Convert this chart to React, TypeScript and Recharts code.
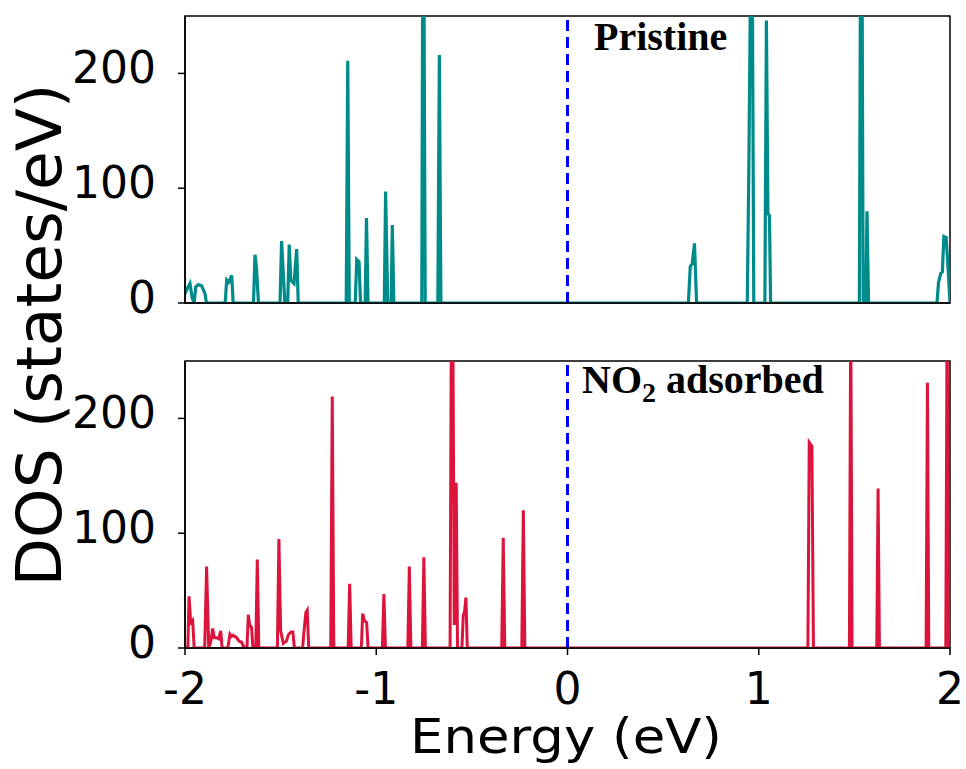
import React from 'react';
import { LineChart, Line, XAxis, YAxis, ReferenceLine, ReferenceArea } from 'recharts';

// Pristine DOS (energy in eV, DOS in states/eV)
const pristineEnergy = [
  -2.0, -1.99, -1.974, -1.962, -1.952, -1.944, -1.93, -1.913, -1.9, -1.895, -1.888,
  -1.79, -1.782, -1.772, -1.766, -1.756, -1.748,
  -1.642, -1.634, -1.626, -1.616,
  -1.503, -1.495, -1.478, -1.463, -1.455, -1.447, -1.43, -1.416, -1.408,
  -1.157, -1.149, -1.141,
  -1.11, -1.102, -1.09, -1.082,
  -1.058, -1.051, -1.043,
  -0.958, -0.951, -0.94, -0.922, -0.916, -0.908,
  -0.762, -0.757, -0.751, -0.744,
  -0.678, -0.67, -0.662,
  0.632, 0.642, 0.652, 0.664, 0.675,
  0.94, 0.948, 0.958, 0.966, 0.974,
  1.032, 1.04, 1.048, 1.056, 1.062,
  1.526, 1.532, 1.54, 1.546,
  1.56, 1.566, 1.574,
  1.932, 1.94, 1.952, 1.96, 1.968, 1.98, 1.99, 2.0,
];
const pristineDos = [
  8, 12, 17, 4, 0, 14, 16, 15, 10, 8, 0,
  0, 20, 18, 20, 24, 0,
  0, 42, 30, 0,
  0, 54, 0, 0, 51, 20, 17, 47, 0,
  0, 211, 0,
  0, 38, 36, 0,
  0, 74, 0,
  0, 97, 0, 0, 68, 0,
  0, 300, 300, 0,
  0, 216, 0,
  0, 32, 34, 52, 0,
  0, 114, 300, 300, 0,
  0, 246, 78, 76, 0,
  0, 300, 300, 0,
  0, 80, 0,
  0, 18, 26, 27, 58, 57, 30, 0,
];

// NO2 adsorbed DOS
const adsorbedEnergy = [
  -2.0, -1.985, -1.979, -1.97, -1.96, -1.952,
  -1.897, -1.887, -1.876, -1.866, -1.855, -1.847, -1.836, -1.824, -1.813, -1.806,
  -1.776, -1.765, -1.757, -1.748, -1.73, -1.718, -1.704, -1.69,
  -1.676, -1.669, -1.662, -1.652, -1.645,
  -1.63, -1.622, -1.614,
  -1.517, -1.509, -1.5, -1.486, -1.47, -1.458, -1.445, -1.436, -1.428,
  -1.385, -1.378, -1.368, -1.361, -1.353,
  -1.238, -1.23, -1.222,
  -1.147, -1.139, -1.131,
  -1.078, -1.071, -1.062, -1.05, -1.043,
  -0.968, -0.96, -0.952,
  -0.835, -0.827, -0.819,
  -0.759, -0.751, -0.743,
  -0.614, -0.607, -0.6, -0.592, -0.582, -0.575,
  -0.552, -0.545, -0.538, -0.531, -0.524,
  -0.344, -0.336, -0.328,
  -0.239, -0.231, -0.223,
  1.257, 1.264, 1.272, 1.278, 1.286,
  1.474, 1.481, 1.488,
  1.617, 1.624, 1.631,
  1.875, 1.882, 1.889,
  1.978, 1.985, 1.992, 2.0,
];
const adsorbedDos = [
  0, 0, 45, 22, 24, 0,
  0, 71, 0, 5, 17, 9, 9, 8, 15, 0,
  0, 12, 10, 11, 9, 6, 5, 0,
  0, 29, 20, 18, 0,
  0, 77, 0,
  0, 95, 15, 4, 6, 12, 14, 14, 0,
  0, 14, 31, 33, 0,
  0, 219, 0,
  0, 56, 0,
  0, 30, 24, 22, 0,
  0, 47, 0,
  0, 71, 0,
  0, 79, 0,
  0, 300, 300, 20, 144, 0,
  0, 28, 32, 44, 0,
  0, 96, 0,
  0, 120, 0,
  0, 179, 177, 176, 0,
  0, 300, 0,
  0, 139, 0,
  0, 231, 0,
  0, 300, 0, 0,
];

const energyTicks = [-2, -1, 0, 1, 2];
const dosTicks = [0, 100, 200];

const pristineData = pristineEnergy.map((e, i) => ({ e, dos: pristineDos[i] }));
const adsorbedData = adsorbedEnergy.map((e, i) => ({ e, dos: adsorbedDos[i] }));

const FONT = "'DejaVu Sans', sans-serif";
const SERIF = "'Liberation Serif', 'Times New Roman', serif";

const YTick = ({ x, y, payload }: any) => (
  <text x={x} y={y} dy={10} textAnchor="end" fontSize={44} fontFamily={FONT} fill="#000">
    {payload.value}
  </text>
);

const XTick = ({ x, y, payload }: any) => (
  <text x={x} y={y} dy={32} textAnchor="middle" fontSize={44} fontFamily={FONT} fill="#000">
    {payload.value}
  </text>
);

const yLabel = () => (
  <text transform="translate(61,335) rotate(-90)" textAnchor="middle" fontSize={63} fontFamily={FONT} fill="#000">
    DOS (states/eV)
  </text>
);

// the original is stretched sideways a little, so the label is fitted to its width
const xLabel = () => (
  <text x={410} y={753} fontSize={48} textLength={312} lengthAdjust="spacingAndGlyphs" fontFamily={FONT} fill="#000">
    Energy (eV)
  </text>
);

const pristineTitle = () => (
  <text x={594} y={50} fontSize={40} fontWeight="bold" fontFamily={SERIF} fill="#000">
    Pristine
  </text>
);

const adsorbedTitle = () => (
  <text x={582} y={393} fontSize={40} fontWeight="bold" fontFamily={SERIF} fill="#000">
    NO
    <tspan fontSize={28} dy={9}>2</tspan>
    <tspan dy={-9}> adsorbed</tspan>
  </text>
);

const axisLine = { stroke: '#000', strokeWidth: 1.5 };
const tickLine = { stroke: '#000', strokeWidth: 1.5 };

export default function App() {
  return (
    <div style={{ position: 'absolute', left: 0, top: 0, width: 966, height: 769, background: '#fff' }}>
      {/* bottom panel: NO2 adsorbed */}
      <div style={{ position: 'absolute', left: 0, top: 0 }}>
        <LineChart width={966} height={769} data={adsorbedData} margin={{ top: 361, right: 16, bottom: 0, left: 0 }}>
          <XAxis
            dataKey="e"
            type="number"
            domain={[-2, 2]}
            ticks={energyTicks}
            allowDataOverflow
            height={121}
            tickSize={7}
            tickMargin={17}
            axisLine={axisLine}
            tickLine={tickLine}
            tick={<XTick />}
            label={xLabel}
          />
          <YAxis
            type="number"
            domain={[0, 250]}
            ticks={dosTicks}
            allowDataOverflow
            width={185}
            tickSize={7}
            tickMargin={22}
            axisLine={axisLine}
            tickLine={tickLine}
            tick={<YTick />}
            label={yLabel}
          />
          <ReferenceArea x1={-2} x2={2} y1={0} y2={250} fill="none" stroke="#000" strokeWidth={1.5} />
          <Line
            type="linear"
            dataKey="dos"
            stroke="#DC143C"
            strokeWidth={3}
            dot={false}
            isAnimationActive={false}
          />
          <ReferenceLine x={0} stroke="#0000ff" strokeWidth={3} strokeDasharray="11 6" label={adsorbedTitle} />
        </LineChart>
      </div>
      {/* top panel: Pristine */}
      <div style={{ position: 'absolute', left: 0, top: 0 }}>
        <LineChart width={966} height={330} data={pristineData} margin={{ top: 16, right: 16, bottom: 0, left: 0 }}>
          <XAxis
            dataKey="e"
            type="number"
            domain={[-2, 2]}
            ticks={energyTicks}
            allowDataOverflow
            height={27}
            tickSize={7}
            axisLine={axisLine}
            tickLine={tickLine}
            tick={false}
          />
          <YAxis
            type="number"
            domain={[0, 250]}
            ticks={dosTicks}
            allowDataOverflow
            width={185}
            tickSize={7}
            tickMargin={22}
            axisLine={axisLine}
            tickLine={tickLine}
            tick={<YTick />}
          />
          <ReferenceArea x1={-2} x2={2} y1={0} y2={250} fill="none" stroke="#000" strokeWidth={1.5} />
          <Line
            type="linear"
            dataKey="dos"
            stroke="#008B8B"
            strokeWidth={3.2}
            dot={false}
            isAnimationActive={false}
          />
          <ReferenceLine x={0} stroke="#0000ff" strokeWidth={3} strokeDasharray="11 6" label={pristineTitle} />
        </LineChart>
      </div>
    </div>
  );
}
